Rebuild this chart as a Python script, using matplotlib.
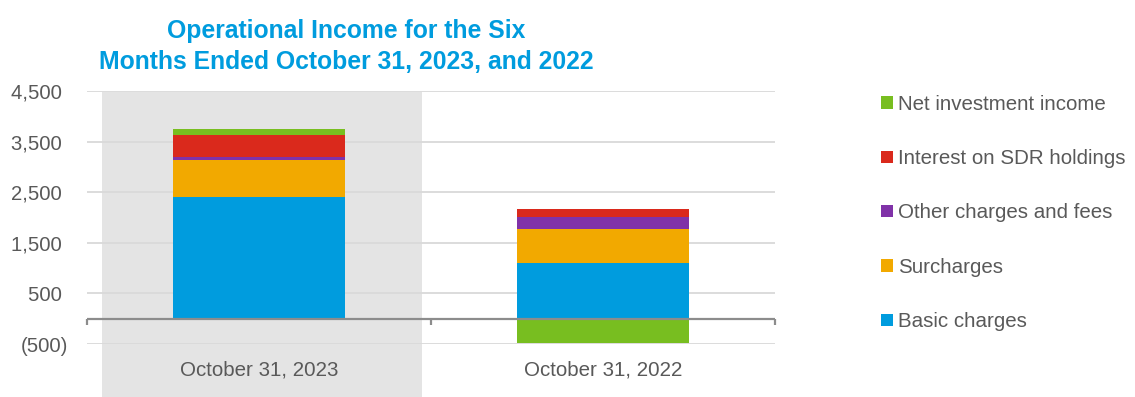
import matplotlib
matplotlib.use("Agg")
import matplotlib.pyplot as plt
from matplotlib.patches import Rectangle
from matplotlib.ticker import FixedLocator, FuncFormatter
import numpy as np

plt.rcParams['font.family'] = ['Liberation Sans', 'DejaVu Sans']

# Data (SDR millions)
categories = ["October 31, 2023", "October 31, 2022"]
series_names = ["Basic charges", "Surcharges", "Other charges and fees",
                "Interest on SDR holdings", "Net investment income"]
basic_charges = [2417, 1099]
surcharges = [731, 680]
other_charges = [60, 237]
interest_sdr = [434, 164]
net_investment = [119, -482]
y_ticks = [-500, 500, 1500, 2500, 3500, 4500]

colors = ["#009CDE", "#F2A900", "#8032A8", "#DA291C", "#78BE20"]
text_color = "#595959"

W, H, DPI = 1135, 397, 100
fig = plt.figure(figsize=(W / DPI, H / DPI), dpi=DPI)

def px_box(x0, y0, x1, y1):
    """Convert a pixel box (top-left origin) to figure fractions."""
    return [x0 / W, 1 - y1 / H, (x1 - x0) / W, (y1 - y0) / H]

ax = fig.add_axes(px_box(87.3, 91.3, 774.5, 344.0))
ax.set_facecolor("none")

# Shaded band behind the current-period column
fig.patches.append(Rectangle((102 / W, 0), (421.5 - 102) / W, 1 - 92.3 / H,
                             transform=fig.transFigure, facecolor="#E4E4E4",
                             edgecolor="none", zorder=-5))

x = np.arange(len(categories))
all_series = [basic_charges, surcharges, other_charges, interest_sdr, net_investment]
pos_bottom = np.zeros(len(categories))
neg_bottom = np.zeros(len(categories))
handles = []
for name, vals, col in zip(series_names, all_series, colors):
    vals = np.asarray(vals, dtype=float)
    bottoms = np.where(vals >= 0, pos_bottom, neg_bottom)
    b = ax.bar(x, vals, width=0.5, bottom=bottoms, color=col, label=name,
               zorder=3, linewidth=0)
    handles.append(b)
    pos_bottom += np.where(vals >= 0, vals, 0)
    neg_bottom += np.where(vals < 0, vals, 0)

ax.set_xlim(-0.5, 1.5)
ax.set_ylim(-500, 4500)

ax.yaxis.set_major_locator(FixedLocator(y_ticks))
ax.yaxis.set_major_formatter(FuncFormatter(
    lambda v, p: f"({abs(v):,.0f})" if v < 0 else f"{v:,.0f} "))
ax.grid(axis="y", color="#D9D9D9", linewidth=1.3, zorder=1)
ax.set_axisbelow(True)
ax.tick_params(axis="y", length=0, pad=14, labelsize=14.6, labelcolor=text_color)

# Category axis drawn at zero
ax.set_xticks(x)
ax.set_xticklabels(categories)
ax.tick_params(axis="x", length=0, labelsize=14.8, labelcolor=text_color, pad=12)
for s in ["top", "right", "left", "bottom"]:
    ax.spines[s].set_visible(False)
ax.axhline(0, color="#8C8C8C", linewidth=1.6, zorder=4)
for xt in [-0.5, 0.5, 1.5]:
    ax.plot([xt, xt], [0, -120], color="#8C8C8C", linewidth=1.6,
            zorder=4, clip_on=False, solid_capstyle="butt")

# Title
fig.text(346 / W, 1 - 46.5 / H,
         "Operational Income for the Six\nMonths Ended October 31, 2023, and 2022",
         ha="center", va="center", fontsize=17.8, fontweight="bold",
         color="#009CDE", linespacing=1.32)

# Legend, top entry first
leg = fig.legend(handles[::-1], series_names[::-1], loc="upper left",
                 bbox_to_anchor=(873 / W, 1 - 86.5 / H), frameon=False,
                 fontsize=14.8, labelcolor=text_color, handlelength=0.55,
                 handleheight=0.55, handletextpad=0.25, labelspacing=1.72,
                 borderaxespad=0)

fig.savefig("out.png", dpi=DPI)
